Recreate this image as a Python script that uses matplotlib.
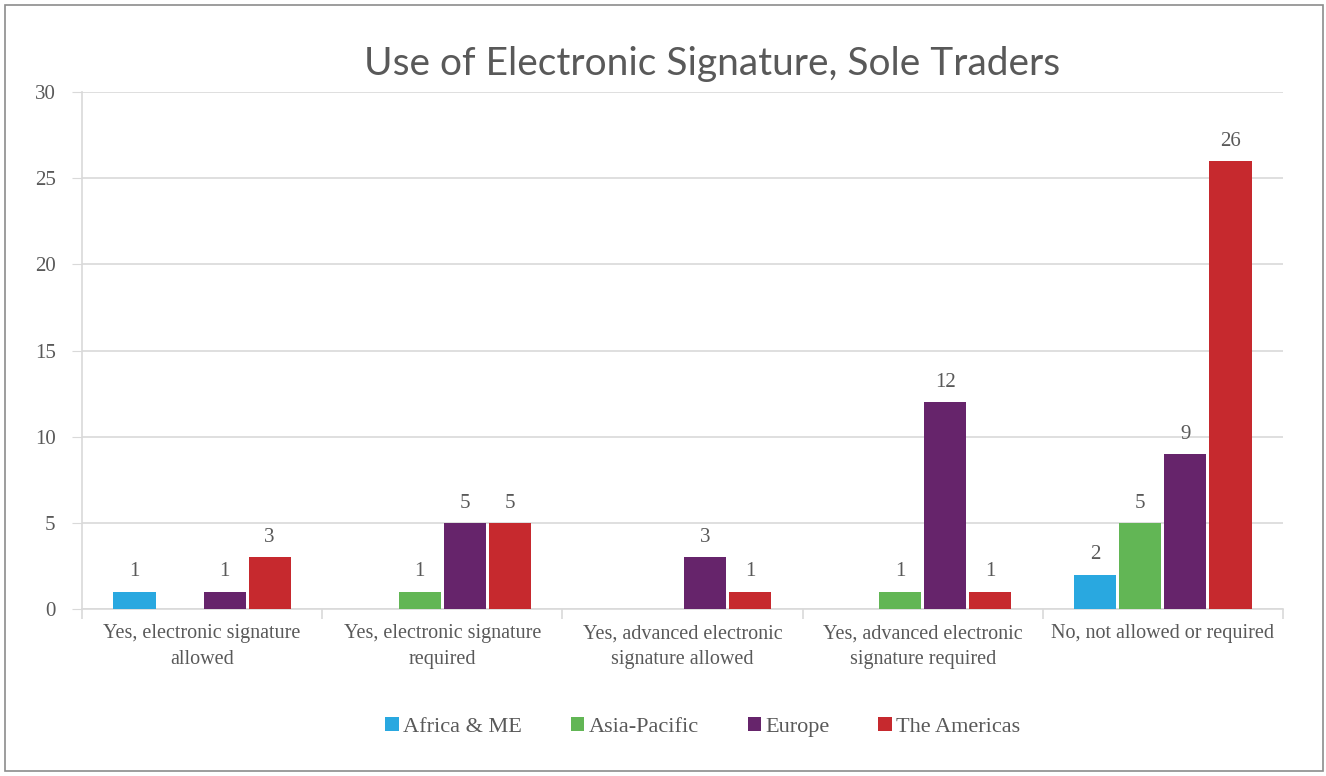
import matplotlib.pyplot as plt
import numpy as np
from matplotlib.patches import Rectangle

categories = [
    "Yes, electronic signature\nallowed",
    "Yes, electronic signature\nrequired",
    "Yes, advanced electronic\nsignature allowed",
    "Yes, advanced electronic\nsignature required",
    "No, not allowed or required",
]
series_names = ["Africa & ME", "Asia-Pacific", "Europe", "The Americas"]
africa_me = [1, 0, 0, 0, 2]
asia_pacific = [0, 1, 0, 1, 5]
europe = [1, 5, 3, 12, 9]
americas = [3, 5, 1, 1, 26]
colors = ["#29A8E0", "#62B655", "#66246B", "#C6292E"]

serif = ["Liberation Serif", "DejaVu Serif"]
text_gray = "#595959"
grid_gray = "#D9D9D9"

fig = plt.figure(figsize=(13.26, 7.76), dpi=100)
ax = fig.add_axes([0.0618, 0.2152, 0.9058, 0.6662])

x = np.arange(len(categories))
slot = 0.1875
width = 0.175
for k, (vals, name) in enumerate(zip([africa_me, asia_pacific, europe, americas], series_names)):
    pos = x + (k - 1.5) * slot
    bars = ax.bar(pos, vals, width, color=colors[k], label=name, zorder=3)
    for b, v in zip(bars, vals):
        if v:
            ax.text(b.get_x() + b.get_width() / 2, v + 0.6, str(v), ha="center", va="bottom",
                    color=text_gray, fontsize=15, family=serif)

ax.set_xlim(-0.5, len(categories) - 0.5)
ax.set_ylim(0, 30)
ax.set_yticks(range(0, 31, 5))
ax.yaxis.grid(True, color=grid_gray, linewidth=1.2, zorder=0)
ax.set_axisbelow(True)
ax.tick_params(axis="y", length=7, color=grid_gray, labelsize=15, labelcolor=text_gray, pad=12)
for lab in ax.get_yticklabels():
    lab.set_family(serif)

ax.set_xticks(x)
ax.set_xticklabels(categories, family=serif, fontsize=14.5, color=text_gray, linespacing=1.45)
ax.tick_params(axis="x", length=0, pad=11)
ax.set_xticks(np.arange(-0.5, len(categories)), minor=True)
ax.tick_params(axis="x", which="minor", length=7, color=grid_gray, width=1.2)

for s in ["top", "right"]:
    ax.spines[s].set_visible(False)
ax.spines["left"].set_color(grid_gray)
ax.spines["left"].set_linewidth(1.2)
ax.spines["bottom"].set_color(grid_gray)
ax.spines["bottom"].set_linewidth(1.2)

fig.text(0.537, 0.918, "Use of Electronic Signature, Sole Traders", ha="center", va="center",
         fontsize=28, color=text_gray, family="Lato")

leg = fig.legend(loc="center", bbox_to_anchor=(0.53, 0.063), ncol=4, frameon=False,
                 prop={"family": serif, "size": 16}, handlelength=0.6, handleheight=0.6,
                 handletextpad=0.2, columnspacing=2.2)
for t in leg.get_texts():
    t.set_color(text_gray)

fig.patches.append(Rectangle((0.004, 0.006), 0.994, 0.988, transform=fig.transFigure,
                             fill=False, edgecolor="#8C8C8C", linewidth=1.2))

fig.savefig("out.png", dpi=100)
